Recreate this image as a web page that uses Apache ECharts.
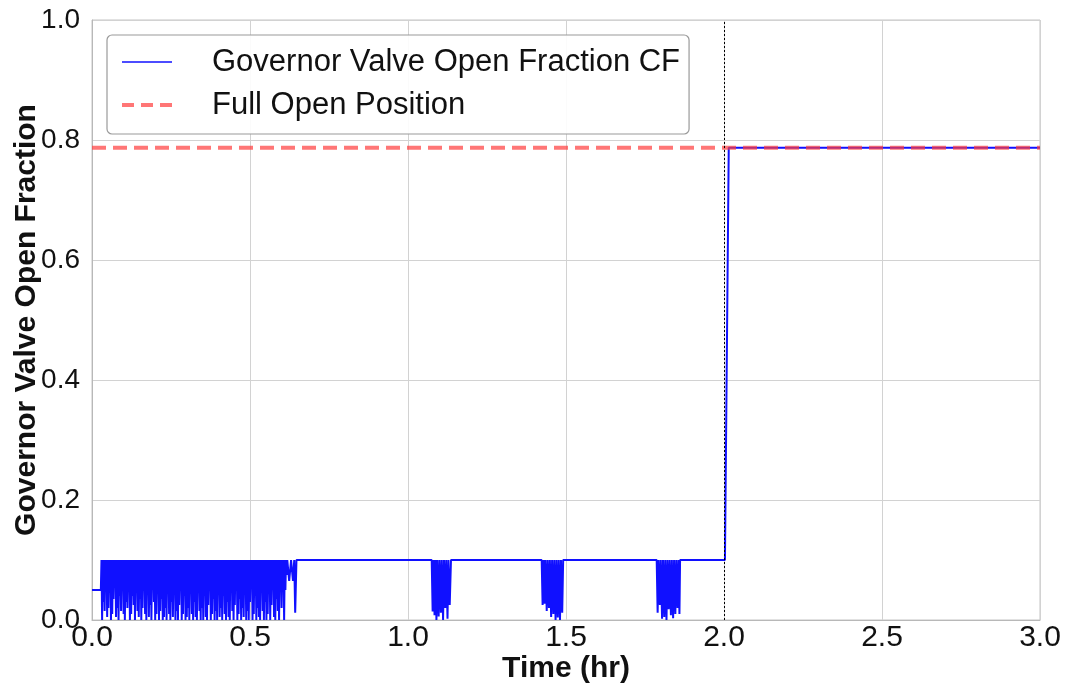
<!DOCTYPE html>
<html>
<head>
<meta charset="utf-8">
<script src="https://cdn.jsdelivr.net/npm/echarts@6/dist/echarts.min.js"></script>
<style>
html,body{margin:0;padding:0;background:#fff;}
#chart{width:1069px;height:687px;}
</style>
</head>
<body>
<div id="chart"></div>
<script>
// ---- data ----
const xTicks = [0.0, 0.5, 1.0, 1.5, 2.0, 2.5, 3.0];
const yTicks = [0.0, 0.2, 0.4, 0.6, 0.8, 1.0];
const seriesNames = ['Governor Valve Open Fraction CF', 'Full Open Position'];
const switchTime = 2.0;
const fullOpenTime = [0.0, 3.0];
const fullOpenValue = [0.787, 0.787];

// governor valve open fraction [time (hr), fraction]
const governorStart = [[0.000,0.05],[0.028,0.05]];
const governorBurst1 = [
[.030,.1],[.032,0],[.034,.1],[.036,.03],[.038,.1],[.040,.015],[.042,.1],[.044,.06],[.046,.1],[.048,.005],
[.050,.1],[.052,.02],[.054,.1],[.056,.045],[.058,.1],[.060,0],[.062,.1],[.064,.01],[.066,.1],[.068,.035],
[.070,.1],[.072,.055],[.074,.1],[.076,.005],[.078,.1],[.080,.02],[.082,.1],[.084,0],[.086,.1],[.088,.04],
[.090,.1],[.092,.015],[.094,.1],[.096,.065],[.098,.1],[.100,.01],[.102,.1],[.104,0],[.106,.1],[.108,.03],
[.110,.1],[.112,.02],[.114,.1],[.116,.05],[.118,.1],[.120,0],[.122,.1],[.124,.01],[.126,.1],[.128,.04],
[.130,.1],[.132,.025],[.134,.1],[.136,0],[.138,.1],[.140,.07],[.142,.1],[.144,.015],[.146,.1],[.148,.005],
[.150,.1],[.152,.035],[.154,.1],[.156,0],[.158,.1],[.160,.02],[.162,.1],[.164,.06],[.166,.1],[.168,.01],
[.170,.1],[.172,0],[.174,.1],[.176,.045],[.178,.1],[.180,.005],[.182,.1],[.184,.025],[.186,.1],[.188,0],
[.190,.1],[.192,.08],[.194,.1],[.196,.03],[.198,.1],[.200,0],[.202,.1],[.204,.01],[.206,.1],[.208,.05],
[.210,.1],[.212,0],[.214,.1],[.216,.015],[.218,.1],[.220,.035],[.222,.1],[.224,0],[.226,.1],[.228,.005],
[.230,.1],[.232,.02],[.234,.1],[.236,0],[.238,.1],[.240,.06],[.242,.1],[.244,.01],[.246,.1],[.248,0],
[.250,.1],[.252,.03],[.254,.1],[.256,.005],[.258,.1],[.260,.045],[.262,.1],[.264,0],[.266,.1],[.268,.015],
[.270,.1],[.272,0],[.274,.1],[.276,.025],[.278,.1],[.280,.07],[.282,.1],[.284,0],[.286,.1],[.288,.01],
[.290,.1],[.292,.04],[.294,.1],[.296,0],[.298,.1],[.300,.005],[.302,.1],[.304,.02],[.306,.1],[.308,0],
[.310,.1],[.312,.05],[.314,.1],[.316,.01],[.318,.1],[.320,0],[.322,.1],[.324,.03],[.326,.1],[.328,.005],
[.330,.1],[.332,0],[.334,.1],[.336,.065],[.338,.1],[.340,.015],[.342,.1],[.344,0],[.346,.1],[.348,.02],
[.350,.1],[.352,0],[.354,.1],[.356,.04],[.358,.1],[.360,.005],[.362,.1],[.364,0],[.366,.1],[.368,.025],
[.370,.1],[.372,.055],[.374,.1],[.376,0],[.378,.1],[.380,.01],[.382,.1],[.384,.035],[.386,.1],[.388,0],
[.390,.1],[.392,.015],[.394,.1],[.396,0],[.398,.1],[.400,.06],[.402,.1],[.404,.005],[.406,.1],[.408,.02],
[.410,.1],[.412,0],[.414,.1],[.416,.04],[.418,.1],[.420,.01],[.422,.1],[.424,0],[.426,.1],[.428,.03],
[.430,.1],[.432,.005],[.434,.1],[.436,0],[.438,.1],[.440,.05],[.442,.1],[.444,.015],[.446,.1],[.448,0],
[.450,.1],[.452,.025],[.454,.1],[.456,.07],[.458,.1],[.460,0],[.462,.1],[.464,.01],[.466,.1],[.468,.035],
[.470,.1],[.472,0],[.474,.1],[.476,.02],[.478,.1],[.480,.005],[.482,.1],[.484,.045],[.486,.1],[.488,0],
[.490,.1],[.492,.015],[.494,.1],[.496,0],[.498,.1],[.500,.03],[.502,.1],[.504,.06],[.506,.1],[.508,0],
[.510,.1],[.512,.01],[.514,.1],[.516,.04],[.518,.1],[.520,0],[.522,.1],[.524,.02],[.526,.1],[.528,.005],
[.530,.1],[.532,0],[.534,.1],[.536,.055],[.538,.1],[.540,.015],[.542,.1],[.544,0],[.546,.1],[.548,.03],
[.550,.1],[.552,0],[.554,.1],[.556,.01],[.558,.1],[.560,.045],[.562,.1],[.564,0],[.566,.1],[.568,.025],
[.570,.1],[.572,.07],[.574,.1],[.576,.005],[.578,.1],[.580,0],[.582,.1],[.584,.035],[.586,.1],[.588,.015],
[.590,.1],[.592,0],[.594,.1],[.596,.06],[.598,.1],[.600,.02],[.602,.1],[.604,.08],[.606,.1],[.608,0],
[.610,.1],[.612,.05],[.614,.1],[.616,.075],[.618,.1],[.624,.065],[.630,.1],[.636,.065],[.640,.1],[.643,.012],
[.647,.1]
];
const governorBurst2 = [
[1.075,0.1],[1.078,0.014],[1.081,0.1],[1.084,0.008],[1.087,0.1],[1.090,0.000],[1.093,0.1],[1.097,0.006],[1.100,0.1],[1.104,0.012],
[1.107,0.1],[1.111,0.000],[1.114,0.1],[1.118,0.020],[1.121,0.1],[1.125,0.002],[1.128,0.1],[1.132,0.025],[1.136,0.1]
];
const governorBurst3 = [
[1.423,0.1],[1.426,0.025],[1.429,0.1],[1.432,0.027],[1.435,0.1],[1.439,0.015],[1.442,0.1],[1.446,0.020],[1.449,0.1],[1.453,0.005],
[1.456,0.1],[1.460,0.010],[1.463,0.1],[1.467,0.000],[1.470,0.1],[1.474,0.004],[1.477,0.1],[1.481,0.000],[1.484,0.1],[1.488,0.012],[1.491,0.1]
];
const governorBurst4 = [
[1.787,0.1],[1.790,0.012],[1.793,0.1],[1.797,0.025],[1.800,0.1],[1.804,0.002],[1.807,0.1],[1.811,0.005],[1.814,0.1],[1.818,0.000],
[1.821,0.1],[1.825,0.018],[1.828,0.1],[1.832,0.008],[1.835,0.1],[1.839,0.003],[1.842,0.1],[1.846,0.010],[1.849,0.1],[1.853,0.020],
[1.856,0.1],[1.859,0.010],[1.861,0.1]
];
const governorEnd = [[2.003,0.1],[2.015,0.787],[3.000,0.787]];

const governorData = [].concat(governorStart, governorBurst1, governorBurst2, governorBurst3, governorBurst4, governorEnd);
const fullOpenData = fullOpenTime.map((t, i) => [t, fullOpenValue[i]]);

const FONT = '"Liberation Sans", Arial, Helvetica, sans-serif';
const BLUE = '#1010ff';
const RED = 'rgba(255,60,60,0.7)';
const chart = echarts.init(document.getElementById('chart'), null, {renderer: 'canvas'});
chart.setOption({
  animation: false,
  backgroundColor: '#ffffff',
  grid: {left: 92, right: 29, top: 20, bottom: 67, show: true, borderColor: '#c4c4c4', borderWidth: 1,
         containLabel: false, outerBoundsMode: 'none'},
  legend: {
    left: 107, top: 35, orient: 'vertical',
    data: [
      {name: seriesNames[0], itemStyle: {opacity: 0}, lineStyle: {color: BLUE, width: 1.4, type: 'solid'}},
      {name: seriesNames[1], itemStyle: {opacity: 0}, lineStyle: {color: RED, width: 4, type: [12, 7]}}
    ],
    itemWidth: 50, itemHeight: 14, itemGap: 9,
    padding: [10, 9, 12, 13],
    backgroundColor: 'rgba(255,255,255,0.9)',
    borderColor: '#9a9a9a', borderWidth: 1.2, borderRadius: 5,
    textStyle: {fontFamily: FONT, fontSize: 31, color: '#111', lineHeight: 34, padding: [0, 0, 0, 35]}
  },
  xAxis: {
    type: 'value', min: xTicks[0], max: xTicks[xTicks.length - 1], interval: 0.5,
    name: 'Time (hr)', nameLocation: 'middle', nameGap: 34, nameMoveOverlap: false,
    nameTextStyle: {fontFamily: FONT, fontSize: 30, fontWeight: 'bold', color: '#111'},
    axisLine: {show: true, lineStyle: {color: '#b8b8b8', width: 1}},
    axisTick: {show: false},
    axisLabel: {fontFamily: FONT, fontSize: 30, color: '#111', margin: 3, formatter: v => v.toFixed(1)},
    splitLine: {show: true, lineStyle: {color: '#d2d2d2', width: 1}}
  },
  yAxis: {
    type: 'value', min: yTicks[0], max: yTicks[yTicks.length - 1], interval: 0.2,
    name: 'Governor Valve Open Fraction', nameLocation: 'middle', nameGap: 50, nameMoveOverlap: false,
    nameTextStyle: {fontFamily: FONT, fontSize: 30, fontWeight: 'bold', color: '#111'},
    axisLine: {show: true, lineStyle: {color: '#b8b8b8', width: 1}},
    axisTick: {show: false},
    axisLabel: {fontFamily: FONT, fontSize: 28, color: '#111', margin: 12, formatter: v => v.toFixed(1)},
    splitLine: {show: true, lineStyle: {color: '#d2d2d2', width: 1}}
  },
  series: [
    {
      name: seriesNames[0], type: 'line', data: governorData,
      symbol: 'none', showSymbol: false, smooth: false,
      lineStyle: {color: BLUE, width: 2.0},
      itemStyle: {color: BLUE},
      z: 2
    },
    {
      name: seriesNames[1], type: 'line', data: fullOpenData,
      symbol: 'none', showSymbol: false,
      lineStyle: {color: RED, width: 4, type: [14, 7]},
      itemStyle: {color: RED},
      z: 3,
      markLine: {
        silent: true, symbol: ['none', 'none'],
        label: {show: false},
        lineStyle: {color: '#000', type: [2, 2], width: 1},
        data: [{xAxis: switchTime}]
      }
    }
  ]
});
</script>
</body>
</html>
